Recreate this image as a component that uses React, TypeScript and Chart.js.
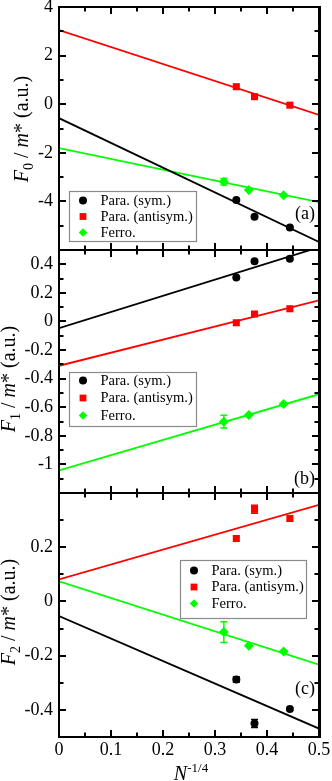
import React, { useEffect, useRef } from 'react';
import { Chart, registerables } from 'chart.js';

Chart.register(...registerables);

const FONT = '"Liberation Serif", "Times New Roman", Tinos, "DejaVu Serif", serif';

// ---- shared data ----
const SERIES = ['Para. (sym.)', 'Para. (antisym.)', 'Ferro.'];
const COLORS = ['#000000', '#ff0000', '#00ff00'];
const xPara = [0.341, 0.376, 0.444];
const xFerro = [0.317, 0.365, 0.432];
const xFit = [0, 0.5];
const xTicks = [0, 0.1, 0.2, 0.3, 0.4, 0.5];

// ---- panel (a): F0 / m* ----
const aSym = [-3.94, -4.63, -5.07];
const aSymErr = [0, 0, 0];
const aAnti = [0.72, 0.31, -0.04];
const aAntiErr = [0, 0, 0];
const aFerro = [-3.19, -3.53, -3.75];
const aFerroErr = [0.13, 0, 0];
const aFitSym = [-0.575, -5.67];
const aFitAnti = [3.05, -0.44];
const aFitFerro = [-1.81, -4.03];
const aYTicks = [-4, -2, 0, 2, 4];

// ---- panel (b): F1 / m* ----
const bSym = [0.308, 0.422, 0.439];
const bSymErr = [0, 0.01, 0];
const bAnti = [-0.009, 0.052, 0.089];
const bAntiErr = [0, 0, 0];
const bFerro = [-0.701, -0.655, -0.577];
const bFerroErr = [0.045, 0, 0];
const bFitSym = [-0.047, 0.519];
const bFitAnti = [-0.31, 0.148];
const bFitFerro = [-1.042, -0.509];
const bYTicks = [-1, -0.8, -0.6, -0.4, -0.2, 0, 0.2, 0.4];

// ---- panel (c): F2 / m* ----
const cSym = [-0.288, -0.45, -0.397];
const cSymErr = [0.01, 0.015, 0];
const cAnti = [0.232, 0.34, 0.306];
const cAntiErr = [0, 0.015, 0];
const cFerro = [-0.113, -0.163, -0.185];
const cFerroErr = [0.038, 0, 0];
const cFitSym = [-0.054, -0.469];
const cFitAnti = [0.081, 0.356];
const cFitFerro = [0.074, -0.233];
const cYTicks = [-0.4, -0.2, 0, 0.2];

type Legend = { x: number; y: number; w: number; h: number; row0: number; step: number };
type PanelSpec = {
  key: string;
  canvasTop: number;
  canvasHeight: number;
  padTop: number;
  padBottom: number;
  showX: boolean;
  yMin: number;
  yMax: number;
  yTicks: number[];
  yMajor: number;
  yMinor: number;
  sym: number[];
  symErr: number[];
  anti: number[];
  antiErr: number[];
  ferro: number[];
  ferroErr: number[];
  fitSym: number[];
  fitAnti: number[];
  fitFerro: number[];
  sub: string;
  titleX: number;
  titleY: number;
  legend: Legend;
  tag: string;
  tagY: number;
};

const PANELS: PanelSpec[] = [
  {
    key: 'a', canvasTop: 0, canvasHeight: 256, padTop: 7, padBottom: 6, showX: false,
    yMin: -6, yMax: 4, yTicks: aYTicks, yMajor: 2, yMinor: 1,
    sym: aSym, symErr: aSymErr, anti: aAnti, antiErr: aAntiErr, ferro: aFerro, ferroErr: aFerroErr,
    fitSym: aFitSym, fitAnti: aFitAnti, fitFerro: aFitFerro,
    sub: '0', titleX: 28, titleY: 129,
    legend: { x: 69, y: 191, w: 127, h: 50, row0: 9.5, step: 16 },
    tag: '(a)', tagY: 214,
  },
  {
    key: 'b', canvasTop: 244, canvasHeight: 255, padTop: 6, padBottom: 6, showX: false,
    yMin: -1.2, yMax: 0.5, yTicks: bYTicks, yMajor: 0.2, yMinor: 0.1,
    sym: bSym, symErr: bSymErr, anti: bAnti, antiErr: bAntiErr, ferro: bFerro, ferroErr: bFerroErr,
    fitSym: bFitSym, fitAnti: bFitAnti, fitFerro: bFitFerro,
    sub: '1', titleX: 14.5, titleY: 379,
    legend: { x: 69, y: 372, w: 127, h: 54, row0: 8.5, step: 17.5 },
    tag: '(b)', tagY: 479,
  },
  {
    key: 'c', canvasTop: 487, canvasHeight: 294, padTop: 6, padBottom: 0, showX: true,
    yMin: -0.5, yMax: 0.4, yTicks: cYTicks, yMajor: 0.2, yMinor: 0.1,
    sym: cSym, symErr: cSymErr, anti: cAnti, antiErr: cAntiErr, ferro: cFerro, ferroErr: cFerroErr,
    fitSym: cFitSym, fitAnti: cFitAnti, fitFerro: cFitFerro,
    sub: '2', titleX: 14.5, titleY: 612,
    legend: { x: 180, y: 560, w: 126, h: 58, row0: 10.5, step: 16.5 },
    tag: '(c)', tagY: 689,
  },
];

function drawMarker(ctx: CanvasRenderingContext2D, kind: number, x: number, y: number, s: number) {
  ctx.beginPath();
  if (kind === 0) {
    ctx.arc(x, y, s, 0, Math.PI * 2);
  } else if (kind === 1) {
    ctx.rect(x - s, y - s, 2 * s, 2 * s);
  } else {
    ctx.moveTo(x, y - s * 1.25);
    ctx.lineTo(x + s * 1.25, y);
    ctx.lineTo(x, y + s * 1.25);
    ctx.lineTo(x - s * 1.25, y);
    ctx.closePath();
  }
  ctx.fill();
}

// frame and inward ticks on all four sides
function drawFrame(chart: any, p: PanelSpec) {
  const ctx: CanvasRenderingContext2D = chart.ctx;
  const area = chart.chartArea;
  const left = Math.round(area.left), right = Math.round(area.right);
  const top = Math.round(area.top), bottom = Math.round(area.bottom);
  const xs = chart.scales['x'];
  const ys = chart.scales['y'];
  ctx.save();
  ctx.fillStyle = '#000000';
  const nY = Math.round((p.yMax - p.yMin) / p.yMinor);
  for (let k = 1; k < nY; k++) {
    const v = p.yMin + k * p.yMinor;
    const r = v / p.yMajor;
    const isMajor = Math.abs(r - Math.round(r)) < 1e-6;
    const len = isMajor ? 7 : 4.5;
    const py = Math.round(ys.getPixelForValue(v));
    ctx.fillRect(left, py - 1, len, 2);
    ctx.fillRect(right - len, py - 1, len, 2);
  }
  for (let k = 1; k < 10; k++) {
    const v = k * 0.05;
    const len = k % 2 === 0 ? 7 : 4.5;
    const px = Math.round(xs.getPixelForValue(v));
    ctx.fillRect(px - 1, top, 2, len);
    ctx.fillRect(px - 1, bottom - len, 2, len);
  }
  ctx.fillRect(left - 1, top - 1, right - left + 2, 2);
  ctx.fillRect(left - 1, bottom - 1, right - left + 2, 2);
  ctx.fillRect(left - 1, top - 1, 2, bottom - top + 2);
  ctx.fillRect(right - 1, top - 1, 3, bottom - top + 2);
  ctx.restore();
}

function drawDecor(chart: any, p: PanelSpec) {
  const ctx: CanvasRenderingContext2D = chart.ctx;
  const off = p.canvasTop;
  ctx.save();
  const L = p.legend;
  const lx = L.x, ly = L.y - off;
  ctx.fillStyle = '#ffffff';
  ctx.fillRect(lx, ly, L.w, L.h);
  ctx.strokeStyle = '#8a8a8a';
  ctx.lineWidth = 1.2;
  ctx.strokeRect(lx + 0.5, ly + 0.5, L.w, L.h);
  ctx.font = `14.5px ${FONT}`;
  ctx.textBaseline = 'middle';
  ctx.textAlign = 'left';
  for (let i = 0; i < 3; i++) {
    const ry = ly + L.row0 + i * L.step;
    ctx.fillStyle = COLORS[i];
    drawMarker(ctx, i, lx + 14, ry, i === 0 ? 4 : 3.4);
    ctx.fillStyle = '#000';
    ctx.fillText(SERIES[i], lx + 31.5, ry + 0.5);
  }
  ctx.font = `18px ${FONT}`;
  ctx.textAlign = 'right';
  ctx.textBaseline = 'middle';
  ctx.fillStyle = '#000';
  ctx.fillText(p.tag, 315, p.tagY - off);

  ctx.save();
  ctx.translate(p.titleX, p.titleY - off);
  ctx.rotate(-Math.PI / 2);
  const parts: any[] = [
    { t: 'F', f: `italic 20px ${FONT}`, dy: 0 },
    { t: p.sub, f: `14px ${FONT}`, dy: 5 },
    { t: ' / ', f: `20px ${FONT}`, dy: 0 },
    { t: 'm', f: `italic 20px ${FONT}`, dy: 0 },
    { t: '* (a.u.)', f: `20px ${FONT}`, dy: 0 },
  ];
  let w = 0;
  parts.forEach((q) => { ctx.font = q.f; q.w = ctx.measureText(q.t).width; w += q.w; });
  let tx = -w / 2;
  ctx.textAlign = 'left';
  ctx.textBaseline = 'alphabetic';
  parts.forEach((q) => { ctx.font = q.f; ctx.fillText(q.t, tx, q.dy); tx += q.w; });
  ctx.restore();

  if (p.showX) {
    const xp: any[] = [
      { t: 'N', f: `italic 20px ${FONT}`, dy: 0 },
      { t: '-1/4', f: `13px ${FONT}`, dy: -8 },
    ];
    let xw = 0;
    xp.forEach((q) => { ctx.font = q.f; q.w = ctx.measureText(q.t).width; xw += q.w; });
    let qx = 191 - xw / 2;
    const base = 780 - off;
    ctx.textAlign = 'left';
    ctx.textBaseline = 'alphabetic';
    xp.forEach((q) => { ctx.font = q.f; ctx.fillText(q.t, qx, base + q.dy); qx += q.w; });
  }
  ctx.restore();
}

function drawErrors(chart: any) {
  const ctx: CanvasRenderingContext2D = chart.ctx;
  const ys = chart.scales['y'];
  ctx.save();
  ctx.lineWidth = 1.5;
  for (let i = 0; i < 3; i++) {
    const meta = chart.getDatasetMeta(i);
    const ds = chart.data.datasets[i];
    ctx.strokeStyle = COLORS[i];
    ds.data.forEach((pt: any, j: number) => {
      const e = ds.errors[j];
      if (!e) return;
      const x = meta.data[j].x;
      const y1 = ys.getPixelForValue(pt.y + e);
      const y2 = ys.getPixelForValue(pt.y - e);
      ctx.beginPath();
      ctx.moveTo(x, y1); ctx.lineTo(x, y2);
      ctx.moveTo(x - 3.5, y1); ctx.lineTo(x + 3.5, y1);
      ctx.moveTo(x - 3.5, y2); ctx.lineTo(x + 3.5, y2);
      ctx.stroke();
    });
  }
  ctx.restore();
}

function makeConfig(p: PanelSpec): any {
  const pts = (xs: number[], ys: number[]) => xs.map((x, i) => ({ x, y: ys[i] }));
  const styles = ['circle', 'rect', 'rectRot'];
  const radii = [4, 5, 5];
  const xsFor = [xPara, xPara, xFerro];
  const vals = [p.sym, p.anti, p.ferro];
  const errs = [p.symErr, p.antiErr, p.ferroErr];
  const fits = [p.fitSym, p.fitAnti, p.fitFerro];
  const datasets: any[] = [];
  for (let i = 0; i < 3; i++) {
    datasets.push({
      label: SERIES[i],
      data: pts(xsFor[i], vals[i]),
      errors: errs[i],
      pointStyle: styles[i],
      pointRadius: radii[i],
      backgroundColor: COLORS[i],
      borderColor: COLORS[i],
      borderWidth: 0,
      showLine: false,
      order: 1,
    });
  }
  for (let i = 0; i < 3; i++) {
    datasets.push({
      label: SERIES[i] + ' fit',
      data: pts(xFit, fits[i]),
      showLine: true,
      pointRadius: 0,
      borderColor: COLORS[i],
      backgroundColor: COLORS[i],
      borderWidth: 1.8,
      order: 2,
    });
  }

  const plugin = {
    id: 'panelDecor',
    afterDatasetsDraw(chart: any) {
      drawErrors(chart);
    },
    afterDraw(chart: any) {
      drawFrame(chart, p);
      drawDecor(chart, p);
    },
  };

  return {
    type: 'scatter',
    data: { datasets },
    options: {
      animation: false,
      responsive: false,
      devicePixelRatio: 1,
      layout: { padding: { top: p.padTop, bottom: p.padBottom, left: 0, right: 13 } },
      plugins: { legend: { display: false }, tooltip: { enabled: false } },
      scales: {
        x: {
          type: 'linear',
          min: 0,
          max: 0.5,
          display: p.showX,
          grid: { display: false, drawTicks: false },
          border: { display: false },
          ticks: {
            color: '#000',
            font: { family: FONT, size: 18 },
            padding: 2,
            maxRotation: 0,
            autoSkip: false,
            callback: (v: any) => String(v),
          },
          afterBuildTicks: (s: any) => { s.ticks = xTicks.map((v) => ({ value: v })); },
          afterFit: (s: any) => {
            s.height = p.showX ? 44 : 0;
            s.paddingLeft = 0;
            s.paddingRight = 0;
          },
        },
        y: {
          type: 'linear',
          min: p.yMin,
          max: p.yMax,
          grid: { display: false, drawTicks: false },
          border: { display: false },
          ticks: {
            color: '#000',
            font: { family: FONT, size: 18 },
            padding: 6,
            autoSkip: false,
            callback: (v: any) => String(v),
          },
          afterBuildTicks: (s: any) => { s.ticks = p.yTicks.map((v) => ({ value: v })); },
          afterFit: (s: any) => { s.width = 59; s.paddingTop = 0; s.paddingBottom = 0; },
        },
      },
    },
    plugins: [plugin],
  };
}

function PanelChart({ p }: { p: PanelSpec }) {
  const ref = useRef<HTMLCanvasElement>(null);
  useEffect(() => {
    const chart = new Chart(ref.current as HTMLCanvasElement, makeConfig(p));
    let alive = true;
    const fonts: any = (document as any).fonts;
    if (fonts && fonts.load) {
      Promise.all([
        fonts.load(`18px "Liberation Serif"`),
        fonts.load(`italic 20px "Liberation Serif"`),
      ]).then(() => { if (alive) chart.update('none'); }).catch(() => {});
    }
    return () => { alive = false; chart.destroy(); };
  }, []);
  return (
    <canvas
      ref={ref}
      width={332}
      height={p.canvasHeight}
      style={{ position: 'absolute', left: 0, top: p.canvasTop, width: 332, height: p.canvasHeight }}
    />
  );
}

export default function App() {
  return (
    <div style={{ position: 'fixed', left: 0, top: 0, width: 332, height: 781, background: '#fff', overflow: 'hidden', fontFamily: FONT }}>
      <span style={{ position: 'absolute', left: -1000, top: 0, fontFamily: '"Liberation Serif"' }}>0 <i>F</i></span>
      {PANELS.map((p) => (
        <PanelChart key={p.key} p={p} />
      ))}
    </div>
  );
}
